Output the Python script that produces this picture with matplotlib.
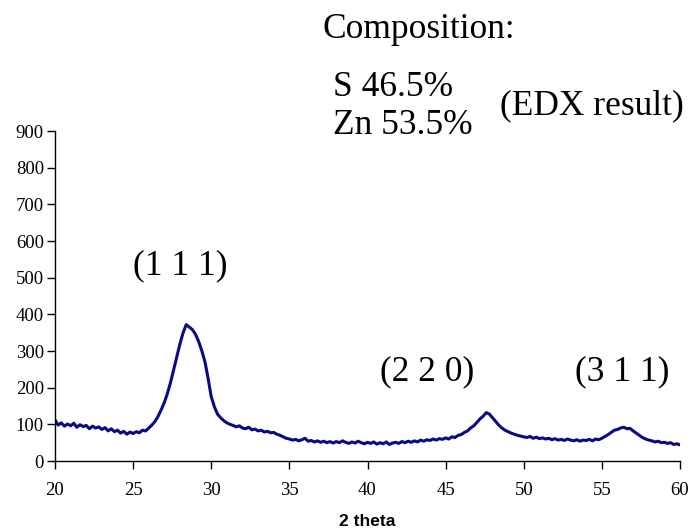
import numpy as np
import matplotlib
matplotlib.use("Agg")
import matplotlib.pyplot as plt

intensity = [
    112, 98, 104, 95, 101,
    96, 103, 92, 99, 94,
    97, 88, 95, 90, 93,
    86, 91, 82, 88, 80,
    84, 76, 81, 73, 79,
    75, 80, 77, 84, 82,
    90, 98, 108, 122, 140,
    160, 185, 215, 250, 285,
    320, 350, 372, 365, 358,
    345, 325, 300, 270, 225,
    175, 148, 128, 118, 110,
    104, 100, 97, 93, 96,
    90, 88, 92, 85, 87,
    82, 84, 79, 81, 77,
    78, 73, 70, 66, 62,
    60, 57, 59, 55, 58,
    62, 54, 56, 52, 55,
    51, 54, 50, 53, 49,
    53, 50, 55, 51, 48,
    52, 49, 54, 50, 47,
    51, 48, 52, 46, 50,
    47, 52, 45, 49, 51,
    48, 53, 50, 54, 51,
    55, 52, 57, 54, 58,
    56, 60, 57, 61, 59,
    63, 60, 66, 64, 70,
    72, 78, 82, 90, 96,
    105, 115, 122, 132, 128,
    118, 108, 98, 90, 84,
    80, 76, 73, 70, 68,
    66, 64, 67, 62, 65,
    61, 63, 60, 62, 58,
    61, 57, 59, 56, 60,
    57, 55, 58, 54, 57,
    56, 59, 55, 60, 58,
    62, 67, 72, 78, 84,
    86, 90, 92, 88, 89,
    82, 76, 70, 64, 60,
    57, 55, 52, 54, 50,
    51, 48, 50, 45, 47,
    44,
]
two_theta = np.linspace(20, 60, len(intensity))

x_ticks = [20, 25, 30, 35, 40, 45, 50, 55, 60]
y_ticks = [0, 100, 200, 300, 400, 500, 600, 700, 800, 900]
peak_labels = ["(1 1 1)", "(2 2 0)", "(3 1 1)"]

W, H = 691, 531
fig = plt.figure(figsize=(W / 100, H / 100), dpi=100)
ax = fig.add_axes([55 / W, 1 - 461 / H, (680 - 55) / W, (461 - 131) / H])

ax.plot(two_theta, intensity, color="#0a0a85", linewidth=2.2)
ax.set_xlim(20, 60)
ax.set_ylim(0, 900)
ax.set_xticks(x_ticks)
ax.set_yticks(y_ticks)
serif = "Liberation Serif"
ax.set_xticklabels([str(v) for v in x_ticks], fontfamily=serif, fontsize=13.5)
ax.set_yticklabels([str(v) for v in y_ticks], fontfamily=serif, fontsize=13.5)
ax.tick_params(axis="x", direction="out", length=6, width=1, pad=9)
ax.tick_params(axis="y", direction="out", length=6, width=1, pad=2)
for s in ["top", "right"]:
    ax.spines[s].set_visible(False)
for s in ["left", "bottom"]:
    ax.spines[s].set_linewidth(1)
ax.set_xlabel("2 theta", fontfamily="Liberation Sans", fontweight="bold",
              fontsize=12.5, labelpad=11)


def ftext(px, py, s, size, ha="left"):
    fig.text(px / W, 1 - py / H, s, fontfamily=serif, fontsize=size,
             ha=ha, va="center")


ftext(322, 30, "Composition:", 25.5)
ftext(333, 88, "S 46.5%", 25.5)
ftext(333, 125, "Zn 53.5%", 25.5)
ftext(500, 106, "(EDX result)", 25.5)
ftext(133, 266, peak_labels[0], 25.5)
ftext(380, 372, peak_labels[1], 25.5)
ftext(575, 372, peak_labels[2], 25.5)

fig.savefig("out.png", dpi=100)
